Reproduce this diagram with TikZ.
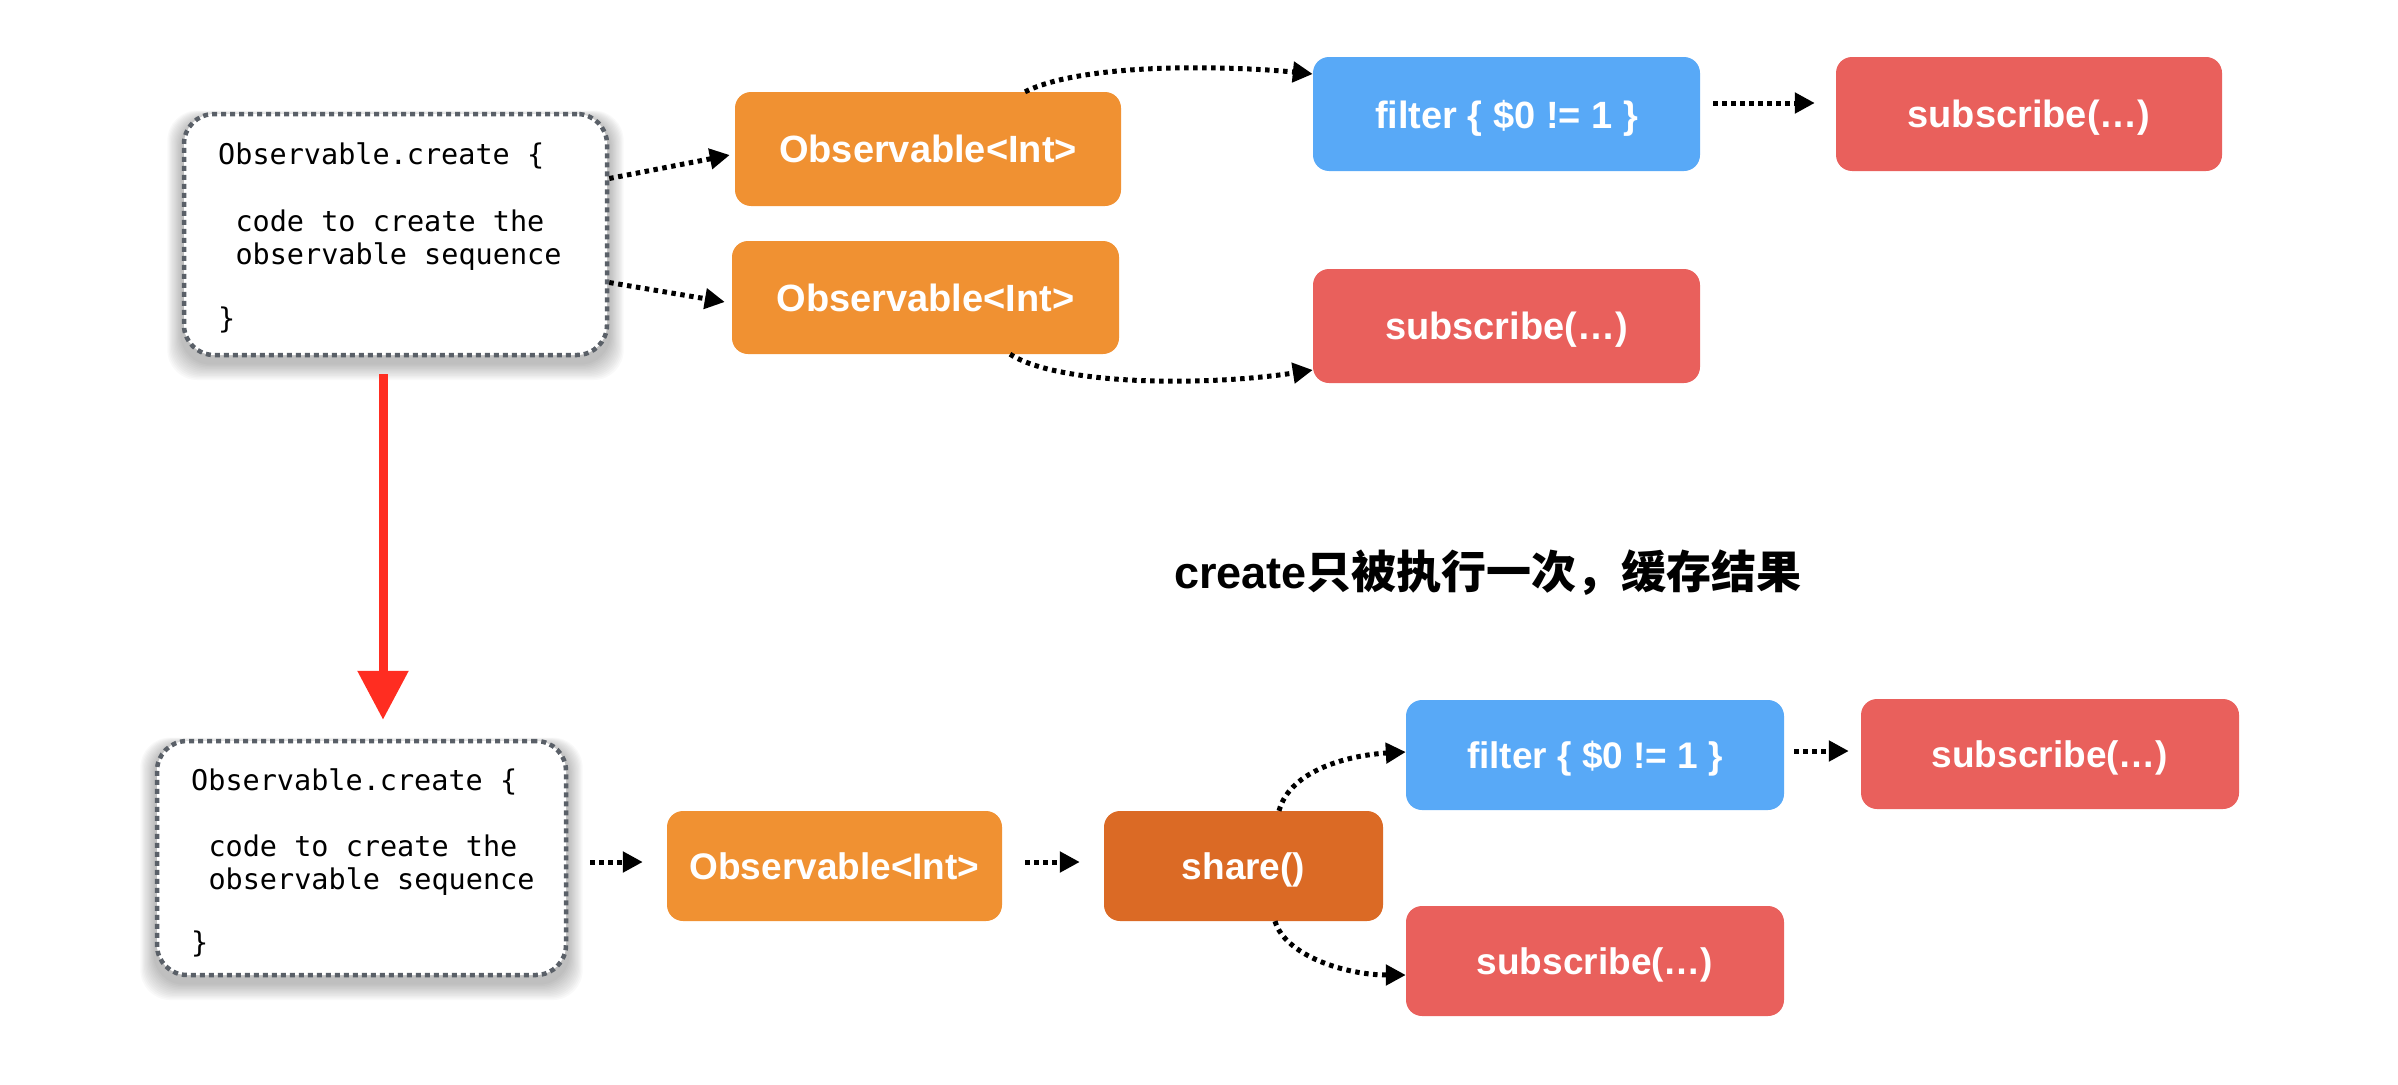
\documentclass[tikz,border=0pt]{standalone}
\usepackage{fontspec}
\setmainfont{Liberation Sans}
\setmonofont{DejaVu Sans Mono}
\newfontfamily\cjk{Noto Sans CJK SC}
\usetikzlibrary{arrows.meta,backgrounds,calc}
\definecolor{cOrange}{RGB}{240,145,50}
\definecolor{cDark}{RGB}{219,106,37}
\definecolor{cBlue}{RGB}{88,169,247}
\definecolor{cRed}{RGB}{233,96,92}
\definecolor{cGray}{RGB}{90,96,104}
\definecolor{cArrow}{RGB}{255,45,33}
\begin{document}
\begin{tikzpicture}[x=1pt,y=-1pt,
  box/.style={rounded corners=16pt, inner sep=0pt, text depth=0pt, text=white, font=\fontsize{38}{44}\selectfont\bfseries},
  sbox/.style={box, font=\fontsize{37}{44}\selectfont\bfseries},
  codebox/.style={draw=cGray, line width=4.5pt, dash pattern=on 5pt off 4pt, rounded corners=30pt, fill=white, inner sep=0pt},
  codeline/.style={anchor=base west, inner sep=0pt, font=\ttfamily\fontsize{28.5}{34}\selectfont},
  dotarrow/.style={draw=black, line width=5pt, dash pattern=on 4.5pt off 4.5pt, -{Triangle[length=20pt,width=20pt]}},
]
\useasboundingbox (0,0) rectangle (2398,1084);

% ---------- top row ----------
\node[codebox, minimum width=423pt, minimum height=241pt] (code1) at (395.5,234.5) {};
\node[codeline] (c1a) at (218,164) {Observable.create \{};
\node[codeline] (c1b) at (235.3,231) {code to create the};
\node[codeline] (c1c) at (235.3,264.5) {observable sequence};
\node[codeline] (c1d) at (218,328) {\}};

\node[box, fill=cOrange, minimum width=386pt, minimum height=114pt] (obs1) at (928,149) {Observable<Int>};
\node[box, fill=cOrange, minimum width=387pt, minimum height=113pt] (obs2) at (925.5,297.5) {Observable<Int>};
\node[box, fill=cBlue, minimum width=387pt, minimum height=114pt] (fil1) at (1506.5,114) {filter \{ \$0 != 1 \}};
\node[box, fill=cRed, minimum width=386pt, minimum height=114pt] (sub1) at (2029,114) {subscribe(…)};
\node[box, fill=cRed, minimum width=387pt, minimum height=114pt] (sub2) at (1506.5,326) {subscribe(…)};

% ---------- title ----------
\node[anchor=west, inner sep=0pt, font=\fontsize{45}{54}\selectfont\bfseries] (title) at (1174,573) {create{\cjk 只被执行一次，缓存结果}};

% ---------- bottom row ----------
\node[codebox, minimum width=409pt, minimum height=234pt] (code2) at (361.5,858) {};
\node[codeline] (c2a) at (191,790) {Observable.create \{};
\node[codeline] (c2b) at (208.3,856) {code to create the};
\node[codeline] (c2c) at (208.3,889) {observable sequence};
\node[codeline] (c2d) at (191,952) {\}};

\node[sbox, fill=cOrange, minimum width=335pt, minimum height=110pt] (obs3) at (834.5,866) {Observable<Int>};
\node[sbox, fill=cDark, minimum width=279pt, minimum height=110pt] (share) at (1243.5,866) {share()};
\node[sbox, fill=cBlue, minimum width=378pt, minimum height=110pt] (fil2) at (1595,755) {filter \{ \$0 != 1 \}};
\node[sbox, fill=cRed, minimum width=378pt, minimum height=110pt] (sub3) at (2050,754) {subscribe(…)};
\node[sbox, fill=cRed, minimum width=378pt, minimum height=110pt] (sub4) at (1595,961) {subscribe(…)};

% ---------- shadows ----------
\begin{scope}[on background layer]
  \foreach \n in {code1,code2}{
    \foreach \i in {1,...,12}{
      \fill[black, opacity=0.022, rounded corners=30pt]
        ([xshift=-1.2*\i pt, yshift=-6pt-1.4*\i pt]\n.south west)
        rectangle ([xshift=1.2*\i pt, yshift=-6pt+0.6*\i pt]\n.north east);
    }
  }
\end{scope}

% ---------- connectors ----------
\draw[dotarrow] ([yshift=56pt]code1.east) -- ([xshift=-5pt,yshift=-6pt]obs1.west);
\draw[dotarrow] ([yshift=-48pt]code1.east) -- ([xshift=-7pt,yshift=-4.5pt]obs2.west);
\draw[dotarrow] ([xshift=97pt]obs1.north) .. controls +(60,-30) and +(-80,-8) .. ([yshift=40pt]fil1.west);
\draw[dotarrow] ([xshift=84.5pt]obs2.south) .. controls +(50,32) and +(-103,16) .. ([yshift=-44pt]sub2.west);
\draw[dotarrow] ([xshift=13pt,yshift=11pt]fil1.east) -- ([xshift=-21pt,yshift=11pt]sub1.west);

\draw[line width=9pt, draw=cArrow, -{Triangle[length=49pt,width=49pt]}]
  ([xshift=-12.5pt,yshift=-17pt]code1.south) -- ([xshift=21.5pt,yshift=19pt]code2.north);

\draw[dotarrow] ([xshift=22pt,yshift=-4pt]code2.east) -- ([xshift=-24pt,yshift=4pt]obs3.west);
\draw[dotarrow] ([xshift=23pt,yshift=4pt]obs3.east) -- ([xshift=-24pt,yshift=4pt]share.west);
\draw[dotarrow] ([xshift=35.5pt]share.north) .. controls +(11,-41) and +(-56,3) .. ([yshift=3pt]fil2.west);
\draw[dotarrow] ([xshift=31.5pt]share.south) .. controls +(10,34) and +(-61,0) .. ([yshift=-14pt]sub4.west);
\draw[dotarrow] ([xshift=10pt,yshift=4pt]fil2.east) -- ([xshift=-12pt,yshift=3pt]sub3.west);
\end{tikzpicture}
\end{document}
